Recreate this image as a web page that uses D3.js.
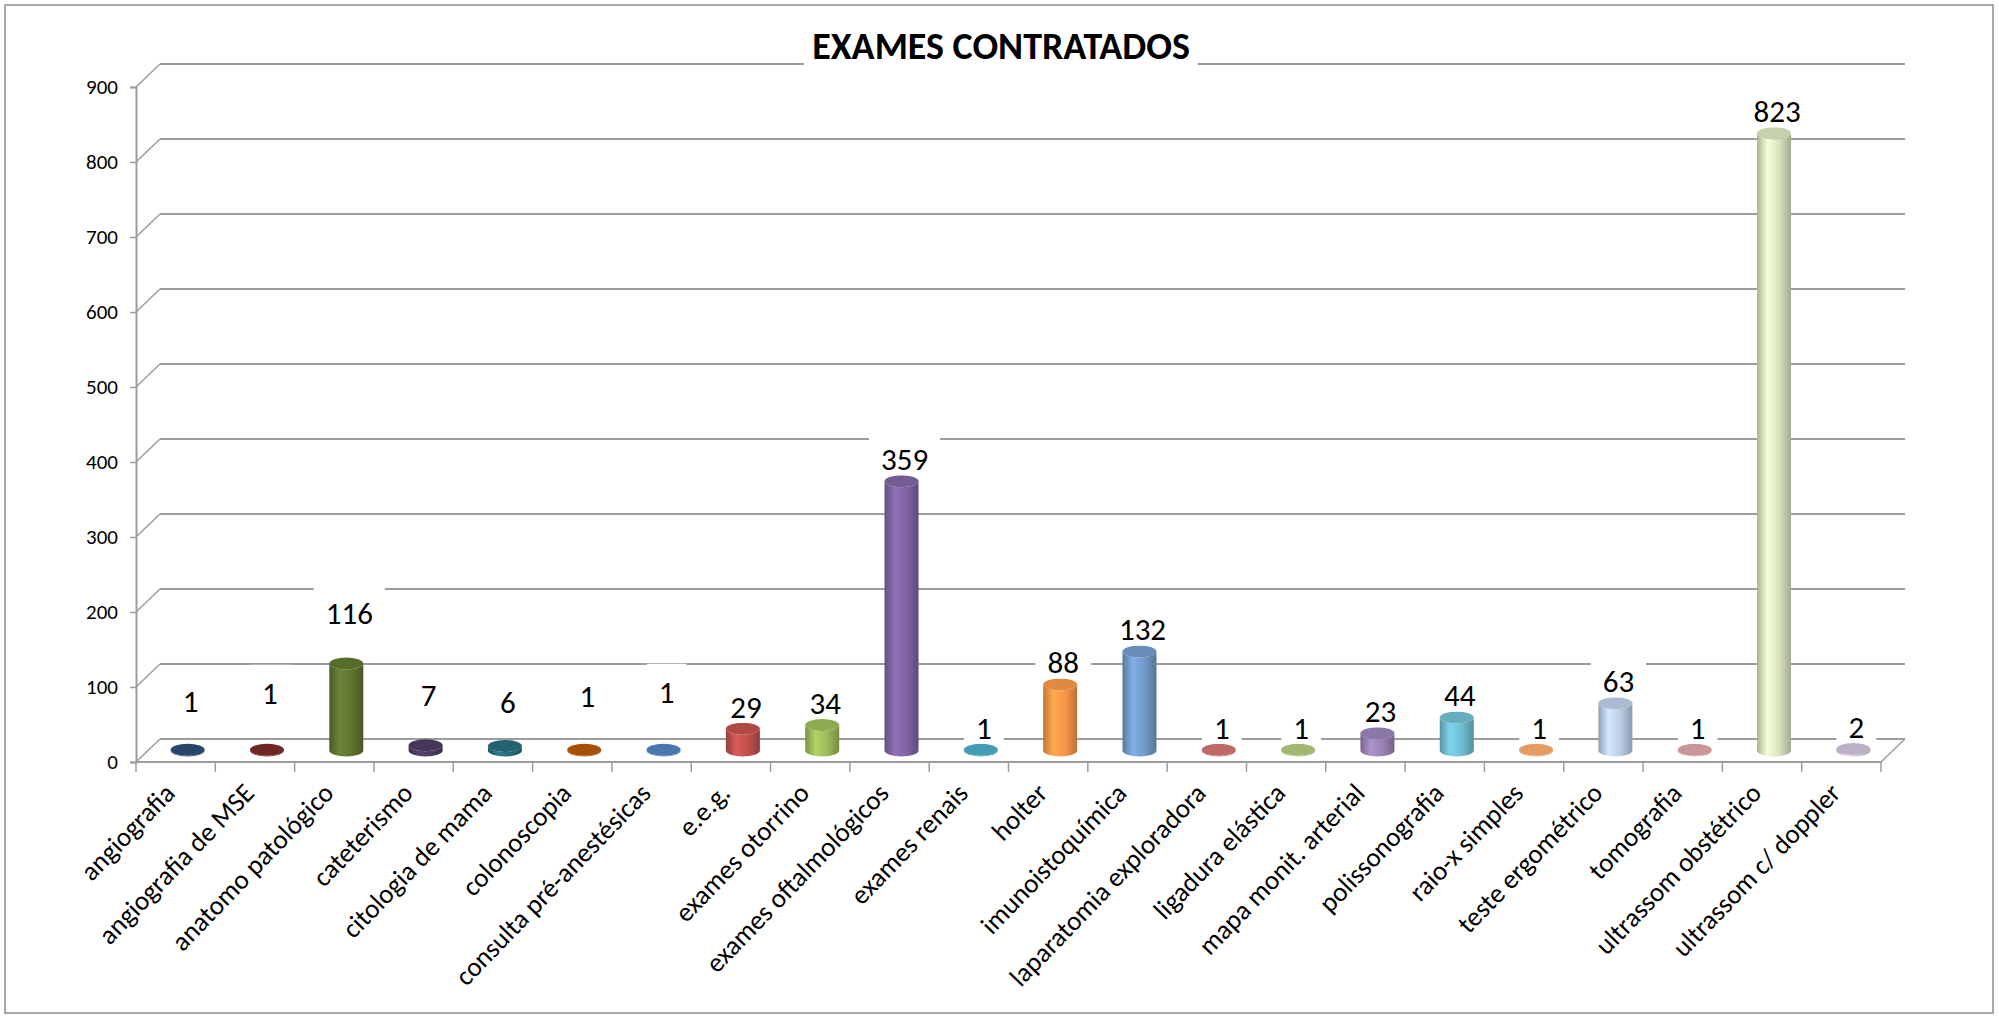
<!DOCTYPE html>
<html>
<head>
<meta charset="utf-8">
<script src="https://cdn.jsdelivr.net/npm/d3@7"></script>
<style>
  body { margin: 0; background: #fff; }
  text { font-family: Carlito, Calibri, Lato, "Open Sans", sans-serif; }
</style>
</head>
<body>
<div id="chart"></div>
<script>
// Data
const title = "EXAMES CONTRATADOS";
const categories = [
  "angiografia", "angiografia de MSE", "anatomo patológico", "cateterismo",
  "citologia de mama", "colonoscopia", "consulta pré-anestésicas", "e.e.g.",
  "exames otorrino", "exames oftalmológicos", "exames renais", "holter",
  "imunoistoquímica", "laparatomia exploradora", "ligadura elástica",
  "mapa monit.  arterial", "polissonografia", "raio-x simples",
  "teste ergométrico", "tomografia", "ultrassom obstétrico", "ultrassom c/ doppler"
];
const values = [1, 1, 116, 7, 6, 1, 1, 29, 34, 359, 1, 88, 132, 1, 1, 23, 44, 1, 63, 1, 823, 2];
const yTicks = [0, 100, 200, 300, 400, 500, 600, 700, 800, 900];
const colors = [
  "#2c4d75", "#772c2a", "#5f7530", "#4d3b62", "#276a7c", "#b65708",
  "#4f81bd", "#c0504d", "#9bbb59", "#8064a2", "#4bacc6", "#f79646",
  "#729aca", "#cd7371", "#afc97a", "#9983b5", "#6fbdd1", "#f9ab6b",
  "#b9cde5", "#dda5a4", "#d7e4bd", "#ccc1da"
];

// label nudges (extra lift in px), as placed by hand in the original
const labelNudge = {
  "angiografia": 27, "angiografia de MSE": 35, "anatomo patológico": 28,
  "cateterismo": 28, "citologia de mama": 22, "colonoscopia": 32,
  "consulta pré-anestésicas": 36
};

const W = 1999, H = 1019;
const x0 = 136, x1 = 1881, y0 = 762, yTop = 87;
const dx = 24, dy = -23;
const gridColor = "#9c9c9c";

const svg = d3.select("#chart").append("svg")
  .attr("width", W).attr("height", H);

// outer border
svg.append("rect")
  .attr("x", 5).attr("y", 5).attr("width", W - 11).attr("height", H - 11)
  .attr("fill", "#fff").attr("stroke", "#8c8c8c").attr("stroke-width", 1.5);

const x = d3.scaleBand().domain(categories).range([x0, x1]).padding(0);
const y = d3.scaleLinear().domain([0, 900]).range([y0, yTop]);

// back wall gridlines + left wall diagonals
const grid = svg.append("g");
yTicks.forEach(t => {
  grid.append("line")
    .attr("x1", x0 + dx).attr("x2", x1 + dx)
    .attr("y1", y(t) + dy).attr("y2", y(t) + dy)
    .attr("stroke", gridColor).attr("stroke-width", 2);
  grid.append("line")
    .attr("x1", x0).attr("x2", x0 + dx)
    .attr("y1", y(t)).attr("y2", y(t) + dy)
    .attr("stroke", gridColor).attr("stroke-width", 1.5);
});

// floor front edge and right side
grid.append("line")
  .attr("x1", x0).attr("x2", x1).attr("y1", y0).attr("y2", y0)
  .attr("stroke", gridColor).attr("stroke-width", 2);
grid.append("line")
  .attr("x1", x1).attr("x2", x1 + dx).attr("y1", y0).attr("y2", y0 + dy)
  .attr("stroke", gridColor).attr("stroke-width", 1.5);

// y axis
const yAxis = svg.append("g")
  .attr("transform", `translate(${x0},0)`)
  .call(d3.axisLeft(y).tickValues(yTicks).tickSize(6).tickPadding(12));
yAxis.select(".domain").attr("stroke", gridColor).attr("stroke-width", 2);
yAxis.selectAll(".tick line").attr("stroke", gridColor).attr("stroke-width", 1.5);
yAxis.selectAll(".tick text")
  .style("font-size", "21px").attr("fill", "#000")
  .style("font-family", "Carlito, Calibri, Lato, sans-serif");

// x axis: boundary ticks + rotated labels
const xAxis = svg.append("g")
  .attr("transform", `translate(0,${y0})`)
  .call(d3.axisBottom(x).tickSize(0).tickFormat(""));
xAxis.select(".domain").remove();
const bounds = categories.map(c => x(c)).concat([x1]);
xAxis.selectAll(".bound")
  .data(bounds)
  .enter()
  .append("line")
  .attr("x1", d => d).attr("x2", d => d)
  .attr("y1", 0).attr("y2", 10)
  .attr("stroke", gridColor).attr("stroke-width", 1.5);

xAxis.selectAll(".xlabel")
  .data(categories)
  .enter()
  .append("text")
  .attr("text-anchor", "end")
  .attr("transform", d => `translate(${x(d) + x.bandwidth() / 2 - 6},${26}) rotate(-46)`)
  .attr("dy", "0.35em")
  .style("font-size", "27px")
  .attr("fill", "#000")
  .text(d => d);

// cylinder bars
const defs = svg.append("defs");
colors.forEach((c, i) => {
  const g = defs.append("linearGradient").attr("id", "grad" + i)
    .attr("x1", "0%").attr("x2", "100%").attr("y1", "0%").attr("y2", "0%");
  const base = d3.color(c);
  g.append("stop").attr("offset", "0%").attr("stop-color", base.darker(0.7));
  g.append("stop").attr("offset", "30%").attr("stop-color", base.brighter(0.35));
  g.append("stop").attr("offset", "65%").attr("stop-color", base);
  g.append("stop").attr("offset", "100%").attr("stop-color", base.darker(0.8));
});

const barW = 34, ry = 6;
const data = categories.map((c, i) => ({ cat: c, value: values[i], i }));

const bars = svg.append("g").selectAll("g")
  .data(data)
  .enter()
  .append("g");

bars.append("path")
  .attr("d", d => {
    const cx = x(d.cat) + x.bandwidth() / 2 + dx / 2;
    const base = y(0) + dy / 2;
    const top = y(d.value) + dy / 2;
    const l = cx - barW / 2, r = cx + barW / 2, rx = barW / 2;
    return `M${l},${top} L${l},${base} A${rx},${ry} 0 0 0 ${r},${base} L${r},${top} A${rx},${ry} 0 0 1 ${l},${top} Z`;
  })
  .attr("fill", d => `url(#grad${d.i})`);

bars.append("ellipse")
  .attr("cx", d => x(d.cat) + x.bandwidth() / 2 + dx / 2)
  .attr("cy", d => y(d.value) + dy / 2)
  .attr("rx", barW / 2)
  .attr("ry", ry)
  .attr("fill", d => d3.color(colors[d.i]).darker(0.25));

// value labels with white boxes
const labels = svg.append("g").selectAll("g")
  .data(data)
  .enter()
  .append("g")
  .attr("transform", d => {
    const cx = x(d.cat) + x.bandwidth() / 2 + dx / 2 + 3;
    const cy = y(d.value) + dy / 2 - 22 - (labelNudge[d.cat] || 0);
    return `translate(${cx},${cy})`;
  });

labels.append("rect").attr("fill", "#fff");
labels.append("text")
  .attr("text-anchor", "middle")
  .attr("dy", "0.35em")
  .style("font-size", "31px")
  .attr("fill", "#000")
  .text(d => d.value);
labels.each(function () {
  const g = d3.select(this);
  const w = g.select("text").node().getComputedTextLength();
  g.select("rect")
    .attr("x", -w / 2 - 12).attr("y", -28)
    .attr("width", w + 24).attr("height", 44);
});

// title with white box
const tg = svg.append("g").attr("transform", "translate(1001,46)");
tg.append("rect").attr("fill", "#fff");
tg.append("text")
  .attr("text-anchor", "middle")
  .attr("dy", "0.35em")
  .style("font-size", "38px")
  .style("font-weight", "bold")
  .attr("fill", "#000")
  .text(title);
const tw = tg.select("text").node().getComputedTextLength();
tg.select("rect")
  .attr("x", -tw / 2 - 8).attr("y", -28)
  .attr("width", tw + 16).attr("height", 54);
</script>
</body>
</html>
